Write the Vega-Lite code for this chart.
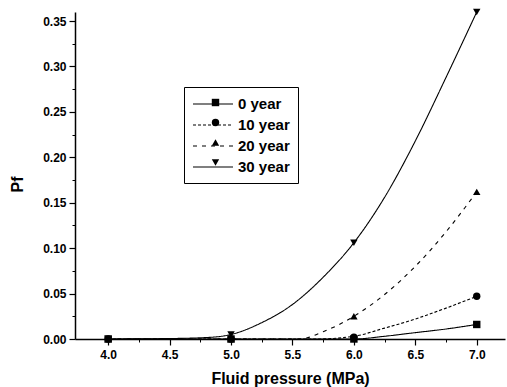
{
  "$schema": "https://vega.github.io/schema/vega-lite/v6.json",
  "width": 430,
  "height": 327,
  "autosize": "none",
  "padding": {"left": 75, "top": 12, "right": 2, "bottom": 48},
  "background": "white",
  "config": {
    "view": {"stroke": null},
    "font": "Liberation Sans",
    "axis": {"grid": false, "domainColor": "black", "tickColor": "black", "labelColor": "black", "titleColor": "black", "labelFont": "Liberation Sans", "titleFont": "Liberation Sans"}
  },
  "datasets": {
    "curves": [
      {"series": "0 year", "p": 4.0, "pf": 0},
      {"series": "0 year", "p": 5.0, "pf": 0},
      {"series": "0 year", "p": 6.0, "pf": 0},
      {"series": "0 year", "p": 6.25, "pf": 0.003},
      {"series": "0 year", "p": 6.5, "pf": 0.007},
      {"series": "0 year", "p": 6.75, "pf": 0.011},
      {"series": "0 year", "p": 7.0, "pf": 0.016},
      {"series": "10 year", "p": 4.0, "pf": 0},
      {"series": "10 year", "p": 5.0, "pf": 0},
      {"series": "10 year", "p": 5.7, "pf": 0},
      {"series": "10 year", "p": 6.0, "pf": 0.003},
      {"series": "10 year", "p": 6.25, "pf": 0.012},
      {"series": "10 year", "p": 6.5, "pf": 0.022},
      {"series": "10 year", "p": 6.75, "pf": 0.034},
      {"series": "10 year", "p": 7.0, "pf": 0.047},
      {"series": "20 year", "p": 4.0, "pf": 0},
      {"series": "20 year", "p": 5.0, "pf": 0},
      {"series": "20 year", "p": 5.56, "pf": 0},
      {"series": "20 year", "p": 5.75, "pf": 0.008},
      {"series": "20 year", "p": 6.0, "pf": 0.025},
      {"series": "20 year", "p": 6.25, "pf": 0.049},
      {"series": "20 year", "p": 6.5, "pf": 0.08},
      {"series": "20 year", "p": 6.75, "pf": 0.118},
      {"series": "20 year", "p": 7.0, "pf": 0.162},
      {"series": "30 year", "p": 4.0, "pf": 0},
      {"series": "30 year", "p": 4.5, "pf": 0.0005},
      {"series": "30 year", "p": 4.85, "pf": 0.002},
      {"series": "30 year", "p": 5.0, "pf": 0.005},
      {"series": "30 year", "p": 5.25, "pf": 0.018},
      {"series": "30 year", "p": 5.5, "pf": 0.038},
      {"series": "30 year", "p": 5.75, "pf": 0.068},
      {"series": "30 year", "p": 6.0, "pf": 0.106},
      {"series": "30 year", "p": 6.25, "pf": 0.156},
      {"series": "30 year", "p": 6.5, "pf": 0.218},
      {"series": "30 year", "p": 6.75, "pf": 0.288},
      {"series": "30 year", "p": 7.0, "pf": 0.36}
    ],
    "markers": [
      {"series": "0 year", "p": 4.0, "pf": 0},
      {"series": "0 year", "p": 5.0, "pf": 0},
      {"series": "0 year", "p": 6.0, "pf": 0},
      {"series": "0 year", "p": 7.0, "pf": 0.016},
      {"series": "10 year", "p": 4.0, "pf": 0},
      {"series": "10 year", "p": 5.0, "pf": 0},
      {"series": "10 year", "p": 6.0, "pf": 0.002},
      {"series": "10 year", "p": 7.0, "pf": 0.047},
      {"series": "20 year", "p": 4.0, "pf": 0},
      {"series": "20 year", "p": 5.0, "pf": 0},
      {"series": "20 year", "p": 6.0, "pf": 0.025},
      {"series": "20 year", "p": 7.0, "pf": 0.162},
      {"series": "30 year", "p": 4.0, "pf": 0},
      {"series": "30 year", "p": 5.0, "pf": 0.005},
      {"series": "30 year", "p": 6.0, "pf": 0.106},
      {"series": "30 year", "p": 7.0, "pf": 0.36}
    ]
  },
  "layer": [
    {
      "data": {"name": "curves"},
      "mark": {"type": "line", "interpolate": "monotone", "color": "black", "strokeWidth": 1.1, "clip": false},
      "encoding": {
        "x": {"field": "p", "type": "quantitative",
              "scale": {"domain": [3.73, 7.23], "nice": false, "zero": false},
              "axis": {"orient": "bottom", "values": [4.25, 4.75, 5.25, 5.75, 6.25, 6.75], "labels": false, "domain": false, "tickSize": 3, "tickWidth": 1, "title": null}},
        "y": {"field": "pf", "type": "quantitative",
              "scale": {"domain": [0, 0.36], "nice": false, "zero": false},
              "axis": {"orient": "left", "values": [0.025, 0.075, 0.125, 0.175, 0.225, 0.275, 0.325], "labels": false, "domain": false, "tickSize": 3, "tickWidth": 1, "title": null}},
        "strokeDash": {"field": "series", "type": "nominal",
              "scale": {"domain": ["0 year", "10 year", "20 year", "30 year"], "range": [[1, 0], [3, 2], [4, 5], [1, 0]]},
              "legend": {
                "title": null, "orient": "none", "legendX": 109, "legendY": 75,
                "padding": 8, "strokeColor": "black",
                "symbolType": "M-2.5,0H2.5", "symbolSize": 256, "symbolOffset": 12, "symbolStrokeWidth": 1.1, "symbolStrokeColor": "black",
                "rowPadding": 4, "labelOffset": 16,
                "labelFont": "Liberation Sans", "labelFontSize": 15, "labelFontWeight": "bold", "labelColor": "black"
              }},
        "detail": {"field": "series"}
      }
    },
    {
      "data": {"name": "markers"},
      "mark": {"type": "point", "filled": true, "color": "black", "opacity": 1, "size": 55, "clip": false},
      "encoding": {
        "x": {"field": "p", "type": "quantitative",
              "axis": {"orient": "bottom", "values": [4, 4.5, 5, 5.5, 6, 6.5, 7], "format": ".1f", "domain": true, "domainWidth": 1.5, "tickSize": 6, "tickWidth": 1.2, "labelPadding": 4, "labelFontSize": 12, "labelFontWeight": "bold",
                       "title": "Fluid pressure (MPa)", "titleFontSize": 16, "titleFontWeight": "bold", "titleBaseline": "alphabetic", "titleY": 44}},
        "y": {"field": "pf", "type": "quantitative",
              "axis": {"orient": "left", "values": [0, 0.05, 0.1, 0.15, 0.2, 0.25, 0.3, 0.35], "format": ".2f", "domain": true, "domainWidth": 1.5, "tickSize": 6, "tickWidth": 1.2, "labelPadding": 3, "labelFontSize": 12, "labelFontWeight": "bold",
                       "title": "Pf", "titleFontSize": 16, "titleFontWeight": "bold", "titleAngle": -90, "titleBaseline": "alphabetic", "titleAlign": "center", "titleX": -53, "titleY": 172}},
        "shape": {"field": "series", "type": "nominal",
              "scale": {"range": ["square", "circle", "triangle-up", "triangle-down"]},
              "legend": {
                "title": null, "orient": "none", "legendX": 109, "legendY": 75,
                "padding": 8,
                "symbolSize": 55, "symbolOffset": 16, "symbolFillColor": "black", "symbolStrokeWidth": 0,
                "rowPadding": 4, "labelOffset": 5,
                "labelFont": "Liberation Sans", "labelFontSize": 15, "labelFontWeight": "bold", "labelOpacity": 0
              }}
      }
    }
  ],
  "resolve": {"axis": {"x": "independent", "y": "independent"}}
}
